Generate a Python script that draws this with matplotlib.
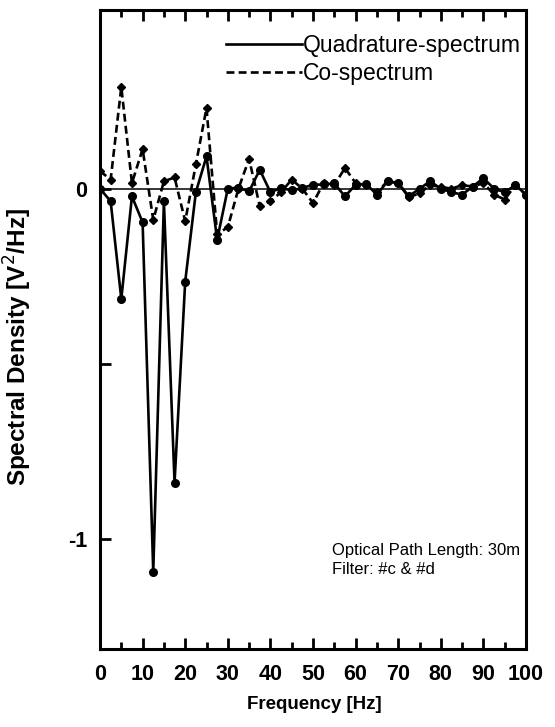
import numpy as np
import matplotlib
matplotlib.use("Agg")
import matplotlib.pyplot as plt

plt.rcParams['font.family'] = ['Liberation Sans', 'DejaVu Sans']

# frequency grid (Hz) and read-off spectral densities
freq = np.arange(0, 100.1, 2.5)
quad = [0.0, -0.036, -0.315, -0.022, -0.096, -1.093, -0.036, -0.839, -0.265, -0.010,
        0.092, -0.146, 0.0, 0.003, -0.008, 0.054, -0.010, 0.002, -0.005, 0.002,
        0.011, 0.012, 0.015, -0.022, 0.011, 0.013, -0.017, 0.021, 0.016, -0.022,
        0.0, 0.021, 0.0, -0.010, -0.017, 0.006, 0.030, 0.0, -0.010, 0.010, -0.017]
co = [0.050, 0.026, 0.290, 0.016, 0.113, -0.089, 0.021, 0.032, -0.093, 0.069,
      0.230, -0.130, -0.110, 0.0, 0.085, -0.050, -0.036, -0.010, 0.026, 0.0,
      -0.041, 0.016, 0.010, 0.059, 0.016, 0.010, -0.010, 0.021, 0.016, -0.025,
      -0.013, 0.010, 0.005, 0.0, 0.010, 0.006, 0.016, -0.017, -0.031, 0.010, -0.017]

xticks = np.arange(0, 101, 10)
yticks = [-1, -0.5, 0]
ytick_labels = ['-1', '', '0']

fig = plt.figure(figsize=(5.55, 7.27), dpi=100)
ax = fig.add_axes([100/555, 1 - 649/727, 426/555, 639/727])

ax.axhline(0, color='black', lw=1.1, zorder=1)
ax.plot(freq, quad, '-', color='black', lw=1.9, marker='o', ms=5.5,
        label='Quadrature-spectrum', zorder=3)
ax.plot(freq, co, '--', color='black', lw=1.9, marker='D', ms=4.5,
        dashes=(3, 1.6), label='Co-spectrum', zorder=2)

ax.set_xlim(0, 100)
ax.set_ylim(-1.314, 0.51)
ax.set_xticks(xticks)
ax.set_xticks(np.arange(5, 100, 10), minor=True)
ax.set_yticks(yticks)
ax.set_yticklabels(ytick_labels)

ax.tick_params(axis='both', which='major', direction='in', length=8, width=2,
               labelsize=15.5, top=True)
ax.tick_params(axis='both', which='minor', direction='in', length=5, width=2, top=True)
ax.tick_params(axis='x', pad=11)
ax.tick_params(axis='y', pad=9)
for lab in ax.get_xticklabels() + ax.get_yticklabels():
    lab.set_fontweight('bold')
for sp in ax.spines.values():
    sp.set_linewidth(2.2)

ax.set_xlabel('Frequency [Hz]', fontsize=13.5, fontweight='bold')
ax.xaxis.set_label_coords(0.502, -0.073)
ax.set_ylabel('Spectral Density [V$^2$/Hz]', fontsize=17.5, fontweight='bold')
ax.yaxis.set_label_coords(-0.155, 0.473)

leg = ax.legend(loc='upper left', bbox_to_anchor=(0.296, 0.963), frameon=False,
                prop={'size': 16.5}, handlelength=3.3, handletextpad=0.05,
                labelspacing=0.25, borderaxespad=0, borderpad=0)
for h in leg.legend_handles:
    h.set_marker('')

ax.text(0.545, 0.166, 'Optical Path Length: 30m\nFilter: #c & #d',
        transform=ax.transAxes, fontsize=12, va='top', ha='left', linespacing=1.3)

fig.savefig('out.png', dpi=100)
